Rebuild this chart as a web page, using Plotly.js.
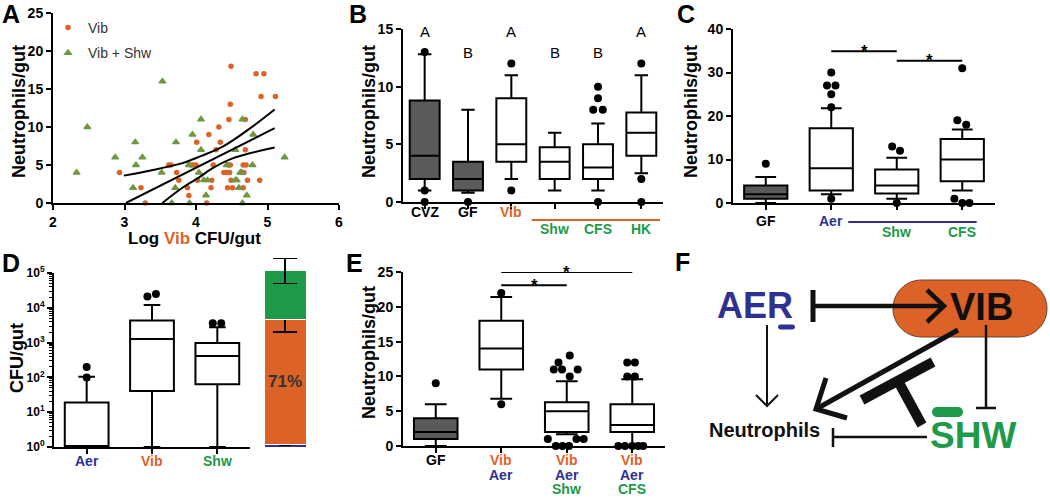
<!DOCTYPE html>
<html><head><meta charset="utf-8">
<script src="https://cdn.plot.ly/plotly-3.0.1.min.js"></script>
<style>html,body{margin:0;padding:0;background:#fff}#chart{width:1050px;height:499px}</style>
</head><body><div id="chart"></div>
<script>
// ================= DATA =================
// Panel A: scatter Log Vib CFU/gut vs Neutrophils/gut
const vibX = [2.93,3.23,3.29,3.62,3.65,3.73,3.76,3.88,3.90,3.93,3.96,4.00,4.01,4.02,4.15,4.18,4.21,4.22,4.24,4.28,4.32,4.34,4.39,4.43,4.47,4.44,4.45,4.48,4.46,4.48,4.49,4.49,4.51,4.66,4.66,4.70,4.67,4.69,4.69,4.72,4.84,4.95,4.89,4.91,5.11];
const vibY = [4,2,0,5,5,4,3,2,1,5,5,5,8,3,0,9,2,3,5,7,10,8,4,4,4,2,5,5,11,13,18,3,2,2,5,5,4,11,7,3,17,17,3,14,14];
const shwX = [2.33,2.48,2.87,3.12,3.15,3.16,3.25,3.52,3.53,3.66,3.71,3.72,3.90,3.91,3.95,4.04,4.07,4.07,4.11,4.14,4.16,4.43,4.55,4.55,4.57,4.60,4.62,4.64,4.65,4.65,4.71,4.79,4.80,5.24];
const shwY = [4,10,6,2,8,5,6,4,16,0,2,8,5,0,9,4,11,7,3,1,3,5,7,3,3,2,4,4,11,0,1,5,9,6];
const fitX = [3.02, 5.10];
const fitY = [0, 9.85];
const ciUpX = [2.99,3.35,3.81,4.05,4.38,4.76,5.10];
const ciUpY = [3.6,4.25,5.25,6.1,7.45,9.85,12.3];
const ciLoX = [3.53,3.81,4.05,4.20,4.52,5.10];
const ciLoY = [0,2.0,3.4,4.4,5.9,7.3];

// Panel B
const bCats = ['CVZ','GF','Vib','Shw','CFS','HK'];
const bLow  = [1, 0.8, 2, 1, 1, 2.5];
const bQ1   = [2, 1, 3.5, 2, 2, 4];
const bMed  = [4, 2, 5, 3.5, 3, 6];
const bQ3   = [8.8, 3.5, 9, 4.75, 5, 7.75];
const bHigh = [12.8, 8, 11, 6, 6.8, 11];
const bOutCat = [0,0,0, 1, 2,2, 4,4,4,4,4, 5,5,5];
const bOutDx  = [0,0,0, 0, 0,0, -0.11,0.11,0,0,0, 0,0,0];
const bOutY   = [13,1,0, 0, 12,1, 8,8,9,10,0, 12,2,0];
const bLetters = ['A','B','A','B','B','A'];
const bLetterY = [14.8,13.0,14.8,13.0,13.0,14.8];

// Panel C
const cCats = ['GF','Aer','Shw','CFS'];
const cLow  = [0, 2, 1, 2.9];
const cQ1   = [1, 2.9, 2.2, 5];
const cMed  = [2, 8, 4, 10];
const cQ3   = [4, 17.2, 7.7, 14.7];
const cHigh = [6, 21.8, 10.4, 16.9];
const cOutCat = [0, 1,1,1,1,1,1, 2,2,2, 3,3,3,3,3,3];
const cOutDx  = [0, 0,-0.065,0.065,0,0,0, -0.07,0.05,0, 0,-0.075,0.06,-0.12,0,0.11];
const cOutY   = [9, 30,27,27,25,22,1, 13,12,0, 31,19,18,1,0,0];
const cSig = [[1,2,34.9],[2,3,32.7]];

// Panel D (log CFU/gut)
const dCats = ['Aer','Vib','Shw'];
const dLow  = [1, 1, 1];
const dQ1   = [1, 41, 64];
const dMed  = [1, 1260, 410];
const dQ3   = [19, 4300, 980];
const dHigh = [105, 12000, 2750];
const dOutCat = [0,0,1,1,2,2];
const dOutDx  = [0,0,-0.07,0.06,-0.07,0.06];
const dOutY   = [100,200,21000,25000,3600,3600];
const dTickVals = [1,10,100,1000,10000,100000];
const dTickText = ['10<sup>0</sup>','10<sup>1</sup>','10<sup>2</sup>','10<sup>3</sup>','10<sup>4</sup>','10<sup>5</sup>'];
// Panel D stacked share bar (%)
const dShareNames = ['Aer','Vib','Shw'];
const dShare    = [1.5, 71, 27.5];
const dShareErr = [0.3, 7.1, 7.1];
const dShareLabel = '71%';

// Panel E
const eTop = ['GF','Vib','Vib','Vib'];
const eMid = ['','Aer','Aer','Aer'];
const eBot = ['','','Shw','CFS'];
const eLow  = [0, 6.8, 1.7, 0];
const eQ1   = [1, 11, 2, 2];
const eMed  = [2, 14, 5, 3];
const eQ3   = [4, 18, 6.3, 6];
const eHigh = [6, 21.4, 9.3, 9.6];
const eOutCat = [0, 1,1, 2,2,2,2,2,2,2,2,2,2,2,2, 3,3,3,3,3,3,3,3,3];
const eOutDx  = [0, 0,0, 0.046,-0.126,-0.198,-0.072,0.167,0.046,-0.289,0.148,0.259,-0.167,-0.065,0.035,
                 -0.076,0.04,-0.076,0.04,-0.213,-0.111,0,0.091,0.167];
const eOutY   = [9, 22,6, 13,12,11,11,11,10,1,1,1,0,0,0, 12,12,10,10,0,0,0,0,0];
const eSig = [[1,3,25.0],[1,2,23.1]];

// ================= STYLE =================
const FONT = 'Liberation Sans, Arial, Helvetica, sans-serif';
const ORANGE = '#DD6227', GREEN = '#1E9A48', BLUE = '#2E3192', GRAY = '#5A5A5A', TRI = '#4CA84A';
const W = 1050, H = 499;
const P = x => x / W, Q = y => 1 - y / H;

const traces = [];
const annotations = [];
const shapes = [];

function boxes(xa, ya, low, q1, med, q3, high, fills, width, ww) {
  for (let i = 0; i < q1.length; i++) {
    traces.push({type:'box', xaxis:xa, yaxis:ya, x:[i], q1:[q1[i]], median:[med[i]], q3:[q3[i]],
      lowerfence:[low[i]], upperfence:[high[i]], fillcolor:fills[i], line:{color:'#000', width:2},
      width:width, whiskerwidth:ww, boxpoints:false, showlegend:false, hoverinfo:'skip'});
  }
}
function outliers(xa, ya, cat, dx, yv, size) {
  traces.push({type:'scatter', mode:'markers', xaxis:xa, yaxis:ya,
    x:cat.map((c, i) => c + dx[i]), y:yv, marker:{color:'#000', size:size},
    cliponaxis:false, showlegend:false, hoverinfo:'skip'});
}
function note(o) {
  annotations.push(Object.assign({showarrow:false, xanchor:'center', yanchor:'middle'}, o));
}
function txt(text, x, y, size, color, o) {
  note(Object.assign({text:text, x:x, y:y, xref:'paper', yref:'paper',
    font:{family:FONT, size:size, color:color || '#000', weight:'bold'}}, o || {}));
}
function catLabel(text, i, xa, ypx, color) {
  note({text:text, x:i, y:Q(ypx), xref:xa, yref:'paper', font:{family:FONT, size:14, color:color, weight:'bold'}});
}

// ---- Panel A ----
traces.push({type:'scatter', mode:'markers', name:'Vib', legendgroup:'g1', x:vibX, y:vibY, xaxis:'x', yaxis:'y',
  marker:{color:ORANGE, size:5.5}, cliponaxis:false});
traces.push({type:'scatter', mode:'markers', name:'Vib + Shw', legendgroup:'g2', x:shwX, y:shwY, xaxis:'x', yaxis:'y',
  marker:{symbol:'triangle-up', color:ORANGE, size:6, line:{color:TRI, width:1.3}}, cliponaxis:false});
[[fitX, fitY, 'linear'], [ciUpX, ciUpY, 'spline'], [ciLoX, ciLoY, 'spline']].forEach(l => {
  traces.push({type:'scatter', mode:'lines', x:l[0], y:l[1], xaxis:'x', yaxis:'y',
    line:{color:'#000', width:2, shape:l[2]}, showlegend:false, hoverinfo:'skip'});
});

// ---- Panel B ----
boxes('x2','y2', bLow, bQ1, bMed, bQ3, bHigh, [GRAY,GRAY,'#fff','#fff','#fff','#fff'], 0.69, 0.45);
outliers('x2','y2', bOutCat, bOutDx, bOutY, 8);
bLetters.forEach((t, i) => note({text:t, x:i, y:bLetterY[i], xref:'x2', yref:'y2',
  font:{family:FONT, size:15, color:'#000'}}));
const bColors = ['#000','#000',ORANGE,GREEN,GREEN,GREEN];
const bRowY = [212,212,212,229,229,229];
bCats.forEach((t, i) => catLabel(t, i, 'x2', bRowY[i], bColors[i]));
shapes.push({type:'line', xref:'x2', yref:'paper', x0:2.47, x1:5.43, y0:Q(220), y1:Q(220), line:{color:ORANGE, width:2}});

// ---- Panel C ----
boxes('x3','y3', cLow, cQ1, cMed, cQ3, cHigh, [GRAY,'#fff','#fff','#fff'], 0.66, 0.48);
outliers('x3','y3', cOutCat, cOutDx, cOutY, 8);
const cColors = ['#000',BLUE,GREEN,GREEN];
const cRowY = [221,221,232,232];
cCats.forEach((t, i) => catLabel(t, i, 'x3', cRowY[i], cColors[i]));
shapes.push({type:'line', xref:'x3', yref:'paper', x0:1.26, x1:3.22, y0:Q(222), y1:Q(222), line:{color:BLUE, width:2}});
cSig.forEach(s => {
  shapes.push({type:'line', xref:'x3', yref:'y3', x0:s[0], x1:s[1], y0:s[2], y1:s[2], line:{color:'#000', width:2}});
  note({text:'*', x:(s[0]+s[1])/2, y:s[2], xref:'x3', yref:'y3', font:{family:FONT, size:17, color:'#000', weight:'bold'}});
});

// ---- Panel D ----
boxes('x4','y4', dLow, dQ1, dMed, dQ3, dHigh, ['#fff','#fff','#fff'], 0.67, 0.38);
outliers('x4','y4', dOutCat, dOutDx, dOutY, 8);
const dColors = [BLUE, ORANGE, GREEN];
dCats.forEach((t, i) => catLabel(t, i, 'x4', 461, dColors[i]));
dShare.forEach((v, i) => traces.push({type:'bar', x:[0], y:[v], name:dShareNames[i], xaxis:'x5', yaxis:'y5', width:1,
  marker:{color:dColors[i], line:{color:'#fff', width:1}},
  error_y:{type:'data', array:[dShareErr[i]], color:'#000', thickness:1.5, width:(i === 0 ? 6 : 12)},
  showlegend:false, hoverinfo:'skip', cliponaxis:false}));
note({text:dShareLabel, x:0, y:dShare[0] + dShare[1] / 2, xref:'x5', yref:'y5',
  font:{family:FONT, size:17, color:'#333', weight:'bold'}});

// ---- Panel E ----
boxes('x6','y6', eLow, eQ1, eMed, eQ3, eHigh, [GRAY,'#fff','#fff','#fff'], 0.665, 0.5);
outliers('x6','y6', eOutCat, eOutDx, eOutY, 8);
eTop.forEach((t, i) => {
  catLabel(t, i, 'x6', 460, t === 'GF' ? '#000' : ORANGE);
  if (eMid[i]) catLabel(eMid[i], i, 'x6', 475, BLUE);
  if (eBot[i]) catLabel(eBot[i], i, 'x6', 488.5, GREEN);
});
eSig.forEach(s => {
  shapes.push({type:'line', xref:'x6', yref:'y6', x0:s[0], x1:s[1], y0:s[2], y1:s[2], line:{color:'#000', width:2}});
  note({text:'*', x:(s[0]+s[1])/2, y:s[2], xref:'x6', yref:'y6', font:{family:FONT, size:17, color:'#000', weight:'bold'}});
});

// ---- Panel letters & axis titles ----
[['A',11,14],['B',358,14],['C',686,14],['D',11,263],['E',354,263],['F',682,262]].forEach(l => txt(l[0], P(l[1]), Q(l[2]), 25, '#000'));
txt('Neutrophils/gut', P(19), Q(112), 18, '#000', {textangle:-90});
txt('Neutrophils/gut', P(369), Q(112), 18, '#000', {textangle:-90});
txt('Neutrophils/gut', P(691), Q(112), 18, '#000', {textangle:-90});
txt('Neutrophils/gut', P(369), Q(353), 18, '#000', {textangle:-90});
txt('CFU/gut', P(17), Q(358), 18, '#000', {textangle:-90});
txt('Log <span style="color:' + ORANGE + '">Vib</span> CFU/gut', P(194), Q(238), 17, '#000');

// ---- Panel F diagram (pixel-like coordinates on hidden axes) ----
function pill(x0, x1, y0, y1) {
  const r = (y1 - y0) / 2, k = 0.5523 * r, xa = x0 + r, xb = x1 - r, ym = (y0 + y1) / 2;
  return `M${xa},${y0} L${xb},${y0} C${xb+k},${y0} ${x1},${ym-k} ${x1},${ym} C${x1},${ym+k} ${xb+k},${y1} ${xb},${y1} ` +
         `L${xa},${y1} C${xa-k},${y1} ${x0},${ym+k} ${x0},${ym} C${x0},${ym-k} ${xa-k},${y0} ${xa},${y0} Z`;
}
const FR = {xref:'x7', yref:'y7'};
const NOFILL = 'rgba(0,0,0,0)';
function fl(x0, y0, x1, y1, w) { shapes.push(Object.assign({type:'line', x0:x0, y0:y0, x1:x1, y1:y1, line:{color:'#111', width:w}}, FR)); }
function fp(path, w, fill, lc) { shapes.push(Object.assign({type:'path', path:path, fillcolor:fill || NOFILL, line:{color:lc || '#111', width:w}}, FR)); }
fp(pill(893, 1047, 280, 337), 1, ORANGE, '#6b4030');
fl(813, 306, 943, 306, 4.5);
fl(813, 290, 813, 322, 5);
fp('M927,290 L944,306 L927,322', 4.5);
fp(pill(778, 795, 324.5, 329.5), 0, BLUE, BLUE);
fl(767, 325, 767, 406, 2);
fp('M756,395 L767,406 L778,395', 2);
fl(958, 330, 818, 408, 5);
fp('M826,378 L816,409 L847,418', 5);
fl(862, 400, 933, 362, 10);
fl(898, 381, 922, 425, 10);
fl(986, 325, 986, 408, 2.5);
fl(976, 408, 996, 408, 2.5);
fp(pill(932, 963, 407, 417), 0, GREEN, GREEN);
fl(927, 437, 833, 437, 2.5);
fl(833, 428, 833, 447, 2.5);
note(Object.assign({text:'AER', x:755, y:305, font:{family:FONT, size:36, color:BLUE, weight:'bold'}}, FR));
note(Object.assign({text:'VIB', x:981, y:307, font:{family:FONT, size:38, color:'#111', weight:'bold'}}, FR));
note(Object.assign({text:'SHW', x:973, y:435, font:{family:FONT, size:37, color:GREEN, weight:'bold'}}, FR));
note(Object.assign({text:'Neutrophils', x:764, y:430, font:{family:FONT, size:20, color:'#111', weight:'bold'}}, FR));

// ================= AXES =================
const tickFont = {family:FONT, size:14, color:'#000', weight:'bold'};
function ax(extra) {
  return Object.assign({showgrid:false, zeroline:false, showline:true, linecolor:'#000', linewidth:2,
    ticks:'outside', ticklen:5, tickwidth:2, tickcolor:'#000', tickfont:tickFont, fixedrange:true}, extra);
}
const layout = {
  width:W, height:H, margin:{l:0, r:0, t:0, b:0}, paper_bgcolor:'#fff', plot_bgcolor:'rgba(0,0,0,0)',
  font:{family:FONT}, barmode:'stack', showlegend:true,
  legend:{x:P(48), y:Q(12), xanchor:'left', yanchor:'top', bgcolor:'rgba(0,0,0,0)', itemwidth:30,
    traceorder:'grouped', tracegroupgap:4, font:{family:FONT, size:14, color:'#333'}},
  xaxis: ax({domain:[P(53), P(339)], range:[2, 6], tickvals:[2,3,4,5,6], anchor:'y'}),
  yaxis: ax({domain:[Q(203), Q(13)], range:[0, 25], tickvals:[0,5,10,15,20,25], anchor:'x'}),
  xaxis2: ax({domain:[P(403), P(663)], range:[-0.5, 5.5], tickvals:[0,1,2,3,4,5], showticklabels:false, anchor:'y2'}),
  yaxis2: ax({domain:[Q(202), Q(29)], range:[0, 15], tickvals:[0,5,10,15], anchor:'x2'}),
  xaxis3: ax({domain:[P(733), P(995)], range:[-0.5, 3.5], tickvals:[0,1,2,3], showticklabels:false, anchor:'y3'}),
  yaxis3: ax({domain:[Q(203), Q(29)], range:[0, 40], tickvals:[0,10,20,30,40], anchor:'x3'}),
  xaxis4: ax({domain:[P(54), P(250)], range:[-0.5, 2.5], tickvals:[0,1,2], showticklabels:false, anchor:'y4'}),
  yaxis4: ax({domain:[Q(447), Q(273)], type:'log', range:[0, 5], tickvals:dTickVals, ticktext:dTickText,
    tickfont:{family:FONT, size:12, color:'#000', weight:'bold'}, anchor:'x4',
    minor:{dtick:'D1', ticks:'outside', ticklen:3, tickwidth:1, tickcolor:'#000'}}),
  xaxis5: {domain:[P(264), P(306)], range:[-0.5, 0.5], visible:false, fixedrange:true, anchor:'y5'},
  yaxis5: {domain:[Q(447), Q(253.4)], range:[0, 110], visible:false, fixedrange:true, anchor:'x5'},
  xaxis6: ax({domain:[P(403), P(665)], range:[-0.5, 3.5], tickvals:[0,1,2,3], showticklabels:false, anchor:'y6'}),
  yaxis6: ax({domain:[Q(446), Q(272)], range:[0, 25], tickvals:[0,5,10,15,20,25], anchor:'x6'}),
  xaxis7: {domain:[P(700), 1], range:[700, 1050], visible:false, fixedrange:true, anchor:'y7'},
  yaxis7: {domain:[0, Q(240)], range:[499, 240], visible:false, fixedrange:true, anchor:'x7'},
  annotations: annotations,
  shapes: shapes
};
Plotly.newPlot('chart', traces, layout, {staticPlot:true, displayModeBar:false});
</script>
</body></html>
